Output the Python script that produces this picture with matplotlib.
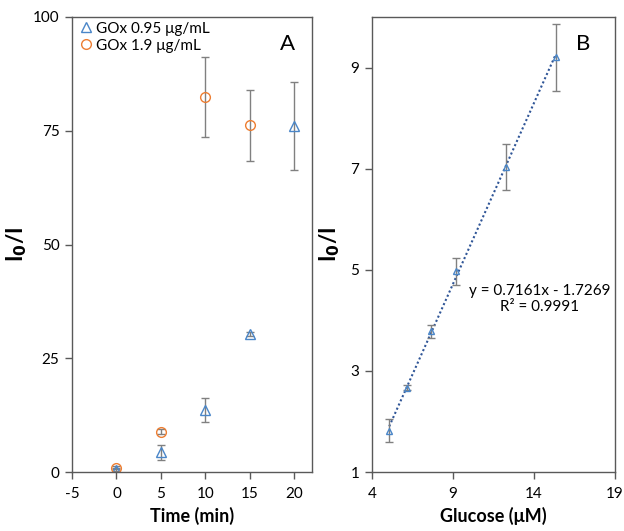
import matplotlib
matplotlib.use("Agg")
import matplotlib.pyplot as plt
import numpy as np

plt.rcParams['font.family'] = ['Lato', 'DejaVu Sans']
plt.rcParams['axes.unicode_minus'] = False

# Panel A data
time_blue = [0, 5, 10, 15, 20]
val_blue = [0.5, 4.3, 13.6, 30.3, 76.0]
err_blue = [0.3, 1.6, 2.7, 0.5, 9.7]
time_orange = [0, 5, 10, 15]
val_orange = [1.0, 8.9, 82.5, 76.2]
err_orange = [0.3, 0.6, 8.8, 7.8]

# Panel B data
glucose = [5.07, 6.14, 7.64, 9.19, 12.25, 15.34]
ratio = [1.82, 2.67, 3.78, 4.97, 7.03, 9.20]
ratio_err = [0.23, 0.05, 0.12, 0.27, 0.45, 0.66]
slope, intercept = 0.7161, -1.7269

blue = '#4a86c8'
orange = '#ed7d31'
gray = '#808080'

fig = plt.figure(figsize=(6.24, 5.31), dpi=100)
axA = fig.add_axes([0.1154, 0.111, 0.3846, 0.857])
axB = fig.add_axes([0.596, 0.111, 0.3896, 0.857])

for ax in (axA, axB):
    for s in ax.spines.values():
        s.set_color('#595959')
        s.set_linewidth(1.0)
    ax.tick_params(direction='out', length=5, width=1, color='#595959', labelsize=11, pad=4)
    ax.tick_params(axis='x', pad=6)

axA.errorbar(time_blue, val_blue, yerr=err_blue, fmt='none', ecolor=gray, elinewidth=1, capsize=3, capthick=1)
axA.errorbar(time_orange, val_orange, yerr=err_orange, fmt='none', ecolor=gray, elinewidth=1, capsize=3, capthick=1)
axA.plot(time_blue, val_blue, linestyle='none', marker='^', markersize=7, markerfacecolor='none', markeredgecolor=blue, markeredgewidth=1, label='GOx 0.95 μg/mL')
axA.plot(time_orange, val_orange, linestyle='none', marker='o', markersize=7, markerfacecolor='none', markeredgecolor=orange, markeredgewidth=1, label='GOx 1.9 μg/mL')
axA.set_xlim(-5, 22)
axA.set_ylim(0, 100)
axA.set_xticks([-5, 0, 5, 10, 15, 20])
axA.set_yticks([0, 25, 50, 75, 100])
axA.set_xlabel('Time (min)', fontsize=13, fontweight='bold', labelpad=4)
axA.set_ylabel('I$_\\mathbf{0}$/I', fontsize=16, fontweight='bold', labelpad=3)
axA.legend(loc='upper left', frameon=False, fontsize=11, handletextpad=0.1, borderaxespad=0.1, labelspacing=0.2, handlelength=1.2, borderpad=0.2)
axA.text(0.93, 0.94, 'A', transform=axA.transAxes, fontsize=16, ha='right', va='center')

xfit = np.array([glucose[0], glucose[-1]])
axB.plot(xfit, slope * xfit + intercept, linestyle=(0, (1, 1.2)), color='#2f5597', linewidth=1.5)
axB.errorbar(glucose, ratio, yerr=ratio_err, fmt='none', ecolor=gray, elinewidth=1, capsize=3, capthick=1)
axB.plot(glucose, ratio, linestyle='none', marker='^', markersize=5, markerfacecolor='none', markeredgecolor=blue, markeredgewidth=1)
axB.set_xlim(4, 19)
axB.set_ylim(1, 10)
axB.set_xticks([4, 9, 14, 19])
axB.set_yticks([1, 3, 5, 7, 9])
axB.set_xlabel('Glucose (μM)', fontsize=13, fontweight='bold', labelpad=4)
axB.set_ylabel('I$_\\mathbf{0}$/I', fontsize=16, fontweight='bold', labelpad=6)
axB.text(0.9, 0.94, 'B', transform=axB.transAxes, fontsize=16, ha='right', va='center')
axB.text(0.69, 0.38, 'y = 0.7161x - 1.7269\nR² = 0.9991', transform=axB.transAxes, fontsize=11, ha='center', va='center', linespacing=1.15)

fig.savefig('out.png', dpi=100)
